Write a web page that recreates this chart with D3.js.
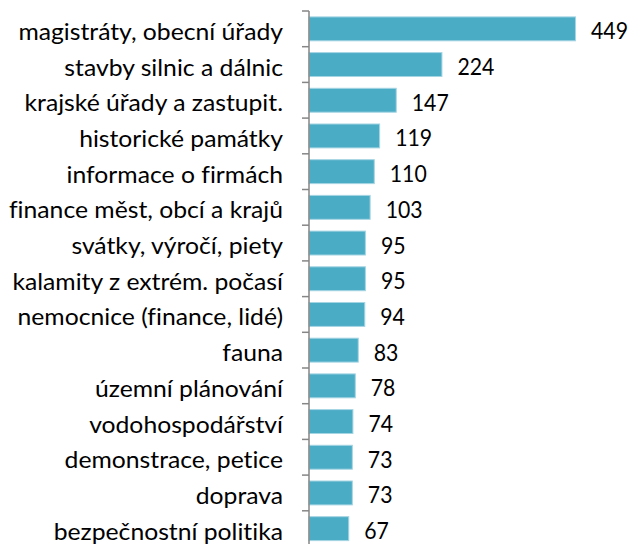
<!DOCTYPE html>
<html>
<head>
<meta charset="utf-8">
<script src="https://cdn.jsdelivr.net/npm/d3@7"></script>
<style>
  html, body { margin: 0; padding: 0; background: #fff; }
  svg { display: block; }
  text { font-variant-ligatures: none; font-feature-settings: "liga" 0; }
</style>
</head>
<body>
<svg id="chart" width="633" height="544"></svg>
<script>
const categories = [
  "magistráty, obecní úřady",
  "stavby silnic a dálnic",
  "krajské úřady a zastupit.",
  "historické památky",
  "informace o firmách",
  "finance měst, obcí a krajů",
  "svátky, výročí, piety",
  "kalamity z extrém. počasí",
  "nemocnice (finance, lidé)",
  "fauna",
  "územní plánování",
  "vodohospodářství",
  "demonstrace, petice",
  "doprava",
  "bezpečnostní politika"
];
const values = [449, 224, 147, 119, 110, 103, 95, 95, 94, 83, 78, 74, 73, 73, 67];

const svg = d3.select("#chart");
const fontFamily = "Lato, 'Open Sans', sans-serif";
const fontSize = 23.7;
const axisX = 309;

const x = d3.scaleLinear().domain([0, 500]).range([axisX, axisX + 0.5935 * 500]);
const y = d3.scaleBand().domain(categories).range([11, 11 + 15 * 35.7]).paddingInner(0.33).paddingOuter(0.165);

// horizontal compression so the substitute font matches the reference's narrow face
function measure(str) {
  const p = svg.append("text").attr("font-family", fontFamily).attr("font-size", fontSize).text(str);
  const w = p.node().getComputedTextLength();
  p.remove();
  return w;
}
const sxLabel = 274 / d3.max(categories, measure);
const sxValue = 37 / measure("224");

// bars
svg.append("g").selectAll("rect").data(values).join("rect")
  .attr("x", x(0))
  .attr("y", (d, i) => y(categories[i]))
  .attr("width", d => x(d) - x(0))
  .attr("height", y.bandwidth())
  .attr("fill", "#4BACC6")
  .attr("stroke", "#A5D5E3")
  .attr("stroke-width", 1);

// axis (ticks at band boundaries)
const boundaries = d3.range(categories.length + 1).map(i => 11 + i * 35.7);
const ax = svg.append("g");
ax.append("line").attr("x1", axisX).attr("x2", axisX).attr("y1", 11).attr("y2", 544)
  .attr("stroke", "#868686").attr("stroke-width", 1.5);
ax.selectAll("line.tick").data(boundaries).join("line").attr("class", "tick")
  .attr("x1", axisX - 7).attr("x2", axisX).attr("y1", d => d).attr("y2", d => d)
  .attr("stroke", "#868686").attr("stroke-width", 1.5);

// category labels
svg.append("g").selectAll("text").data(categories).join("text")
  .attr("transform", d => `translate(283,${y(d) + y.bandwidth() / 2 + 11}) scale(${sxLabel},1)`)
  .attr("text-anchor", "end")
  .attr("font-family", fontFamily)
  .attr("font-size", fontSize)
  .attr("fill", "#000")
  .text(d => d);

// value labels
svg.append("g").selectAll("text").data(values).join("text")
  .attr("transform", (d, i) => `translate(${x(d) + 15.5},${y(categories[i]) + y.bandwidth() / 2 + 10.5}) scale(${sxValue},1)`)
  .attr("font-family", fontFamily)
  .attr("font-size", fontSize)
  .attr("fill", "#000")
  .text(d => d);
</script>
</body>
</html>
